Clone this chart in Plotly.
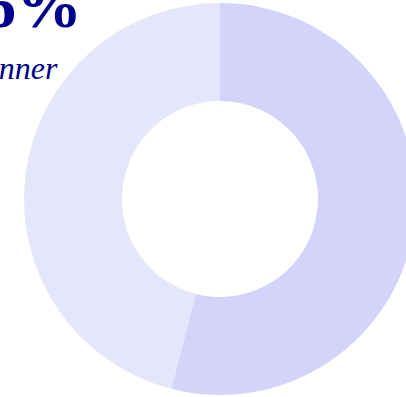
import plotly.graph_objects as go

# Share of the two groups
labels = ["Winner", "Other"]
values = [54, 46]
colors = ["#d4d4fa", "#e6e6fa"]

headline = f"{values[1]}%"
caption = labels[0]

W, H = 440, 397

fig = go.Figure(
    go.Pie(
        labels=labels,
        values=values,
        hole=0.5,
        sort=False,
        direction="clockwise",
        rotation=0,
        marker=dict(colors=colors, line=dict(width=0)),
        textinfo="none",
        hoverinfo="label+percent",
        showlegend=False,
    )
)

fig.add_annotation(
    text=f"<b>{headline}</b>",
    xref="paper", yref="paper",
    x=84 / W, y=1 + 37 / 392,
    xanchor="right", yanchor="top",
    showarrow=False,
    font=dict(family="Liberation Serif", size=66, color="#00008b"),
)
fig.add_annotation(
    text=f"<i>{caption}</i>",
    xref="paper", yref="paper",
    x=60 / W, y=1 - 45 / 392,
    xanchor="right", yanchor="top",
    showarrow=False,
    font=dict(family="Liberation Serif", size=32, color="#00008b"),
)

fig.update_layout(
    width=W,
    height=H,
    margin=dict(l=0, r=0, t=3, b=2),
    paper_bgcolor="white",
    plot_bgcolor="white",
)

fig.write_html(
    "out.html",
    post_script="document.body.style.margin='0';document.body.style.overflow='hidden';",
)
